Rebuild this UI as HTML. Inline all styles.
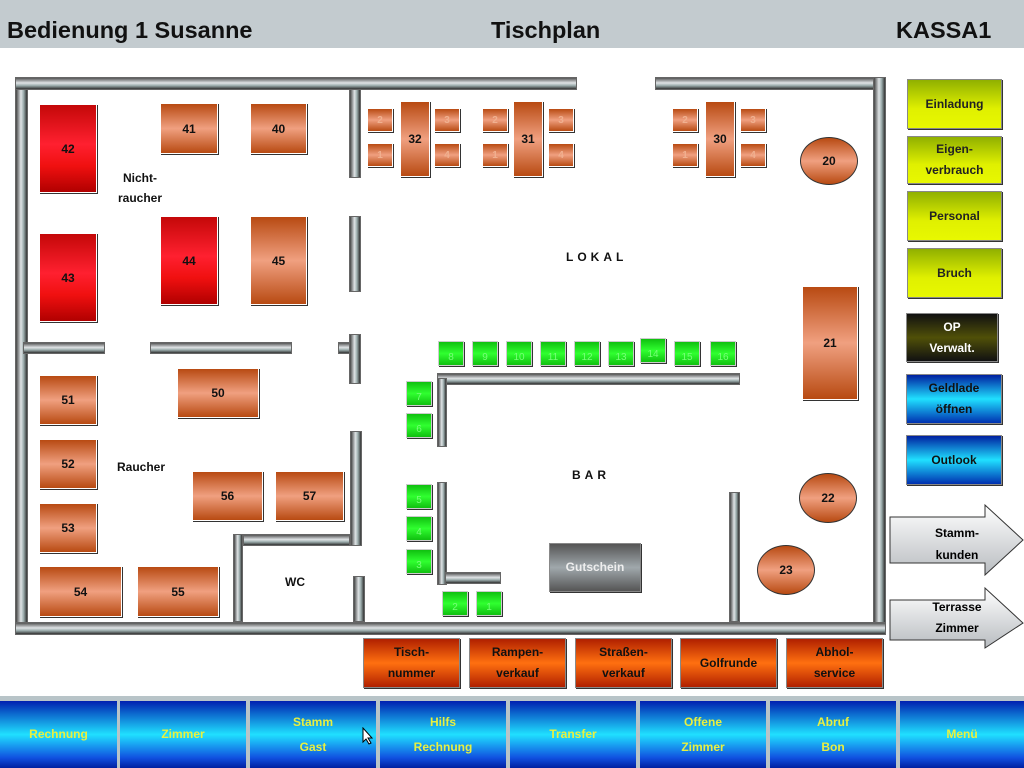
<!DOCTYPE html>
<html><head><meta charset="utf-8"><style>
*{margin:0;padding:0;box-sizing:border-box}
body{width:1024px;height:768px;background:#fff;position:relative;overflow:hidden;font-family:"Liberation Sans",sans-serif}
.a{position:absolute}
.hd{left:0;top:0;width:1024px;height:48px;background:#c3cbcf;font-size:23.5px;font-weight:bold;color:#111}
.wh{position:absolute;background:linear-gradient(#555,#e0e4e6 45%,#9aa 70%,#333);border:1px solid #666}
.wv{position:absolute;background:linear-gradient(90deg,#444,#dfe4e6 45%,#9aa 70%,#333);border:1px solid #666}
.t{position:absolute;background:linear-gradient(#b84a12,#f0a080 50%,#b84a12);border:1px solid #fff;box-shadow:1px 1px 0 #333;display:flex;align-items:center;justify-content:center;font-weight:bold;font-size:12px;color:#111}
.r{background:linear-gradient(#c40808,#ff2030 45%,#f01010 70%,#b00000)}
.s{color:#f0b090;font-size:10px}
.c{border-radius:50%;border:1px solid #333;box-shadow:none}
.g{position:absolute;width:26px;height:25px;background:linear-gradient(#10c010,#30ff30 50%,#10c010);border:1px solid #ccc;box-shadow:1px 1px 0 #333;color:#7f7;font-size:10px;display:flex;align-items:flex-end;justify-content:center;padding-bottom:2px}
.b{position:absolute;display:flex;flex-direction:column;align-items:center;justify-content:center;font-weight:bold;font-size:12px;line-height:21px;text-align:center;border:1px solid #888;box-shadow:1px 1px 0 #333}
.y{background:linear-gradient(#90b000,#e0f000 60%,#e8f800);color:#222}
.bl{background:linear-gradient(#0020a0,#20e0ff 50%,#0030b0);color:#111}
.o{background:linear-gradient(#b02000,#ff7010 50%,#b02000);color:#111}
.bb{position:absolute;top:701px;height:67px;background:linear-gradient(#0020b0,#20e0ff 50%,#1050e0 85%,#0020a0);color:#e8f040;font-weight:bold;font-size:12px;line-height:25px;display:flex;flex-direction:column;align-items:center;justify-content:center;text-align:center}
.lbl{position:absolute;font-weight:bold;font-size:12px;color:#111;text-align:center;line-height:20px}
</style></head><body>
<div class="a hd">
<span class="a" style="left:7px;top:17px">Bedienung 1 Susanne</span>
<span class="a" style="left:491px;top:17px">Tischplan</span>
<span class="a" style="left:896px;top:17px">KASSA1</span>
</div>
<!-- walls -->
<div class="wh" style="left:15px;top:77px;width:562px;height:13px"></div>
<div class="wh" style="left:655px;top:77px;width:231px;height:13px"></div>
<div class="wv" style="left:15px;top:89px;width:13px;height:546px"></div>
<div class="wv" style="left:873px;top:77px;width:13px;height:558px"></div>
<div class="wh" style="left:15px;top:622px;width:871px;height:13px"></div>
<div class="wv" style="left:349px;top:89px;width:12px;height:89px"></div>
<div class="wv" style="left:349px;top:216px;width:12px;height:76px"></div>
<div class="wh" style="left:23px;top:342px;width:82px;height:12px"></div>
<div class="wh" style="left:150px;top:342px;width:142px;height:12px"></div>
<div class="wh" style="left:338px;top:342px;width:19px;height:12px"></div>
<div class="wv" style="left:349px;top:334px;width:12px;height:50px"></div>
<div class="wv" style="left:350px;top:431px;width:12px;height:115px"></div>
<div class="wh" style="left:243px;top:534px;width:107px;height:12px"></div>
<div class="wv" style="left:233px;top:534px;width:10px;height:88px"></div>
<div class="wv" style="left:353px;top:576px;width:12px;height:46px"></div>
<div class="wh" style="left:437px;top:373px;width:303px;height:12px"></div>
<div class="wv" style="left:437px;top:378px;width:10px;height:69px"></div>
<div class="wv" style="left:437px;top:482px;width:10px;height:103px"></div>
<div class="wh" style="left:445px;top:572px;width:56px;height:12px"></div>
<div class="wv" style="left:729px;top:492px;width:11px;height:130px"></div>
<!-- tables -->
<div class="t r" style="left:39px;top:104px;width:58px;height:89px">42</div>
<div class="t r" style="left:39px;top:233px;width:58px;height:89px">43</div>
<div class="t" style="left:160px;top:103px;width:58px;height:51px">41</div>
<div class="t" style="left:250px;top:103px;width:57px;height:51px">40</div>
<div class="t r" style="left:160px;top:216px;width:58px;height:89px">44</div>
<div class="t" style="left:250px;top:216px;width:57px;height:89px">45</div>
<div class="t" style="left:39px;top:375px;width:58px;height:50px">51</div>
<div class="t" style="left:39px;top:439px;width:58px;height:50px">52</div>
<div class="t" style="left:39px;top:503px;width:58px;height:50px">53</div>
<div class="t" style="left:39px;top:566px;width:83px;height:51px">54</div>
<div class="t" style="left:137px;top:566px;width:82px;height:51px">55</div>
<div class="t" style="left:177px;top:368px;width:82px;height:50px">50</div>
<div class="t" style="left:192px;top:471px;width:71px;height:50px">56</div>
<div class="t" style="left:275px;top:471px;width:69px;height:50px">57</div>
<div class="t s" style="left:367px;top:108px;width:26px;height:24px">2</div>
<div class="t s" style="left:367px;top:143px;width:26px;height:24px">1</div>
<div class="t" style="left:400px;top:101px;width:30px;height:76px">32</div>
<div class="t s" style="left:434px;top:108px;width:26px;height:24px">3</div>
<div class="t s" style="left:434px;top:143px;width:26px;height:24px">4</div>
<div class="t s" style="left:482px;top:108px;width:26px;height:24px">2</div>
<div class="t s" style="left:482px;top:143px;width:26px;height:24px">1</div>
<div class="t" style="left:513px;top:101px;width:30px;height:76px">31</div>
<div class="t s" style="left:548px;top:108px;width:26px;height:24px">3</div>
<div class="t s" style="left:548px;top:143px;width:26px;height:24px">4</div>
<div class="t s" style="left:672px;top:108px;width:26px;height:24px">2</div>
<div class="t s" style="left:672px;top:143px;width:26px;height:24px">1</div>
<div class="t" style="left:705px;top:101px;width:30px;height:76px">30</div>
<div class="t s" style="left:740px;top:108px;width:26px;height:24px">3</div>
<div class="t s" style="left:740px;top:143px;width:26px;height:24px">4</div>
<div class="t c" style="left:800px;top:137px;width:58px;height:48px">20</div>
<div class="t" style="left:802px;top:286px;width:56px;height:114px">21</div>
<div class="t c" style="left:799px;top:473px;width:58px;height:50px">22</div>
<div class="t c" style="left:757px;top:545px;width:58px;height:50px">23</div>
<!-- green -->
<div class="g" style="left:438px;top:341px">8</div>
<div class="g" style="left:472px;top:341px">9</div>
<div class="g" style="left:506px;top:341px">10</div>
<div class="g" style="left:540px;top:341px">11</div>
<div class="g" style="left:574px;top:341px">12</div>
<div class="g" style="left:608px;top:341px">13</div>
<div class="g" style="left:640px;top:338px">14</div>
<div class="g" style="left:674px;top:341px">15</div>
<div class="g" style="left:710px;top:341px">16</div>
<div class="g" style="left:406px;top:381px">7</div>
<div class="g" style="left:406px;top:413px">6</div>
<div class="g" style="left:406px;top:484px">5</div>
<div class="g" style="left:406px;top:516px">4</div>
<div class="g" style="left:406px;top:549px">3</div>
<div class="g" style="left:442px;top:591px">2</div>
<div class="g" style="left:476px;top:591px">1</div>
<!-- labels -->
<div class="lbl" style="left:112px;top:168px;width:56px">Nicht-<br>raucher</div>
<div class="lbl" style="left:112px;top:457px;width:58px">Raucher</div>
<div class="lbl" style="left:283px;top:572px;width:24px">WC</div>
<div class="lbl" style="left:566px;top:247px;width:56px;letter-spacing:4px">LOKAL</div>
<div class="lbl" style="left:566px;top:465px;width:50px;letter-spacing:4px">BAR</div>
<div class="b" style="left:549px;top:543px;width:92px;height:49px;background:linear-gradient(#555,#a0a8ac 50%,#555);color:#eee">Gutschein</div>
<!-- right buttons -->
<div class="b y" style="left:907px;top:79px;width:95px;height:50px">Einladung</div>
<div class="b y" style="left:907px;top:136px;width:95px;height:48px">Eigen-<br>verbrauch</div>
<div class="b y" style="left:907px;top:191px;width:95px;height:50px">Personal</div>
<div class="b y" style="left:907px;top:248px;width:95px;height:50px">Bruch</div>
<div class="b" style="left:906px;top:313px;width:92px;height:49px;background:linear-gradient(#111,#505008 50%,#111);color:#fff">OP<br>Verwalt.</div>
<div class="b bl" style="left:906px;top:374px;width:96px;height:50px">Geldlade<br>öffnen</div>
<div class="b bl" style="left:906px;top:435px;width:96px;height:50px">Outlook</div>
<svg class="a" style="left:889px;top:503px" width="135" height="148">
<defs><linearGradient id="ag" x1="0" y1="0" x2="0" y2="1"><stop offset="0" stop-color="#fff"/><stop offset="1" stop-color="#b8bcc0"/></linearGradient></defs>
<polygon points="1,14 96,14 96,2 134,37 96,72 96,60 1,60" fill="url(#ag)" stroke="#333"/>
<polygon points="1,97 96,97 96,85 134,120 96,145 96,137 1,137" fill="url(#ag)" stroke="#333"/>
<text x="68" y="34" font-family="Liberation Sans" font-weight="bold" font-size="12" text-anchor="middle">Stamm-</text>
<text x="68" y="56" font-family="Liberation Sans" font-weight="bold" font-size="12" text-anchor="middle">kunden</text>
<text x="68" y="108" font-family="Liberation Sans" font-weight="bold" font-size="12" text-anchor="middle">Terrasse</text>
<text x="68" y="129" font-family="Liberation Sans" font-weight="bold" font-size="12" text-anchor="middle">Zimmer</text>
</svg>
<!-- orange buttons -->
<div class="b o" style="left:363px;top:638px;width:97px;height:50px">Tisch-<br>nummer</div>
<div class="b o" style="left:469px;top:638px;width:97px;height:50px">Rampen-<br>verkauf</div>
<div class="b o" style="left:575px;top:638px;width:97px;height:50px">Straßen-<br>verkauf</div>
<div class="b o" style="left:680px;top:638px;width:97px;height:50px">Golfrunde</div>
<div class="b o" style="left:786px;top:638px;width:97px;height:50px">Abhol-<br>service</div>
<!-- bottom bar -->
<div class="a" style="left:0;top:696px;width:1024px;height:72px;background:#b8c4c8"></div>
<div class="bb" style="left:0;width:117px">Rechnung</div>
<div class="bb" style="left:120px;width:126px">Zimmer</div>
<div class="bb" style="left:250px;width:126px">Stamm<br>Gast</div>
<div class="bb" style="left:380px;width:126px">Hilfs<br>Rechnung</div>
<div class="bb" style="left:510px;width:126px">Transfer</div>
<div class="bb" style="left:640px;width:126px">Offene<br>Zimmer</div>
<div class="bb" style="left:770px;width:126px">Abruf<br>Bon</div>
<div class="bb" style="left:900px;width:124px">Menü</div>
<svg class="a" style="left:362px;top:727px" width="12" height="18"><polygon points="1,1 1,15 4,12 7,17 9,16 6,11 10,11" fill="#fff" stroke="#000"/></svg>
</body></html>
